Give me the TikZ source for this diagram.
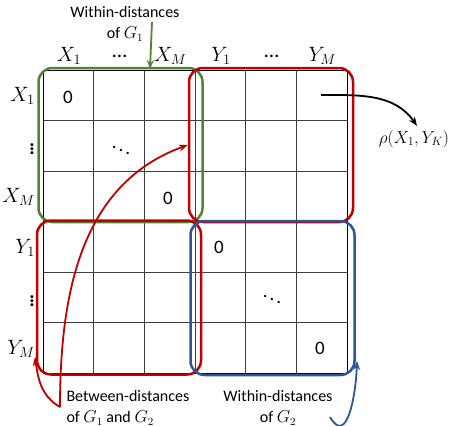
\documentclass[tikz,border=0pt]{standalone}
\usepackage{amsmath}
\usepackage{fontspec}
\setmainfont{Carlito}
\usepackage{xcolor}
\usetikzlibrary{arrows.meta}

\definecolor{grpgreen}{RGB}{84,130,53}
\definecolor{grpred}{RGB}{192,0,0}
\definecolor{grpblue}{RGB}{47,85,151}

\begin{document}
\begin{tikzpicture}[x=1pt,y=-1pt,
                grp/.style={draw, line width=2.5pt, rounded corners=14pt, inner sep=0pt, minimum width=164pt, minimum height=154pt},
                lbl/.style={font=\fontsize{16}{21}\selectfont},
                axis/.style={font=\fontsize{21}{24}\selectfont, inner sep=1pt},
                cell/.style={font=\fontsize{19}{22}\selectfont},
                link/.style={line width=1.8pt, -{Stealth[length=9pt,width=7pt]}}]
                \useasboundingbox (0,0) rectangle (451,426);

                % Draw the distance matrix grid
                \foreach \i in {1,...,5} {
                    \draw[black!75, line width=0.9pt] ({43+\i*50.67},70) -- ({43+\i*50.67},373);
                    \draw[black!75, line width=0.9pt] (43,{70+\i*50.5}) -- (347,{70+\i*50.5});
                }
                \draw[line width=0.9pt] (43,70) rectangle (347,373);

                % axis labels
                \foreach \lab [count=\i from 0] in {$X_1$,\ldots,$X_M$,$Y_1$,\ldots,$Y_M$}
                    \node[axis] (col\i) at ({69+\i*50.67},56) {\lab};
                \foreach \lab [count=\i from 0] in {$X_1$,{\bfseries\fontsize{20}{20}\selectfont$\vdots$},$X_M$,$Y_1$,{\bfseries\fontsize{20}{20}\selectfont$\vdots$},$Y_M$}
                    \node[axis, anchor=east] (row\i) at (36,{96+\i*50.5}) {\lab};

                % diagonal entries
                \node[cell] (z1) at (68,97) {0};
                \node[cell] (z2) at (168,198) {0};
                \node[cell] (z3) at (219,247) {0};
                \node[cell] (z4) at (320,348) {0};
                \node[cell] (d1) at (121,147) {$\ddots$};
                \node[cell] (d2) at (272,296) {$\ddots$};

                % blocks
                \node[grp, draw=grpgreen] (g1) at (120.5,145) {};
                \node[grp, draw=grpred] (btwTop) at (271,145) {};
                \node[grp, draw=grpred] (btwBot) at (119,297.5) {};
                \node[grp, draw=grpblue] (g2) at (272.5,298) {};

                % annotations
                \node[lbl, align=center] (lblG1) at (125,24) {Within-distances\\of $G_1$};
                \node[lbl, align=left, anchor=west] (lblBtw) at (63,408) {Between-distances\\of $G_1$ and $G_2$};
                \node[lbl, align=center] (lblG2) at (278,408) {Within-distances\\of $G_2$};
                \node[font=\fontsize{18}{22}\selectfont] (rho) at (414,139) {$\rho(X_1,Y_K)$};

                \coordinate (g1Src) at (152,22);
                \coordinate (g1Tip) at (150,69);
                \coordinate (rhoSrc) at (321,95);
                \coordinate (btwSrc) at (60,407);
                \coordinate (btwTip) at (35,357);
                \coordinate (g2Src) at (330,417);
                \coordinate (g2Tip) at (357,361);

                \draw[link, grpgreen] (g1Src) -- (g1Tip);
                \draw[link] (rhoSrc) to[out=0,in=125] ([xshift=3pt,yshift=1pt]rho.north);
                \draw[link, grpred] (btwSrc) to[out=90,in=200] (btwTop.west);
                \draw[link, grpred] (btwSrc) to[out=150,in=-82] (btwTip);
                \draw[link, grpblue] (g2Src) to[out=-60,in=-92,looseness=1.4] (g2Tip);
            \end{tikzpicture}
\end{document}
